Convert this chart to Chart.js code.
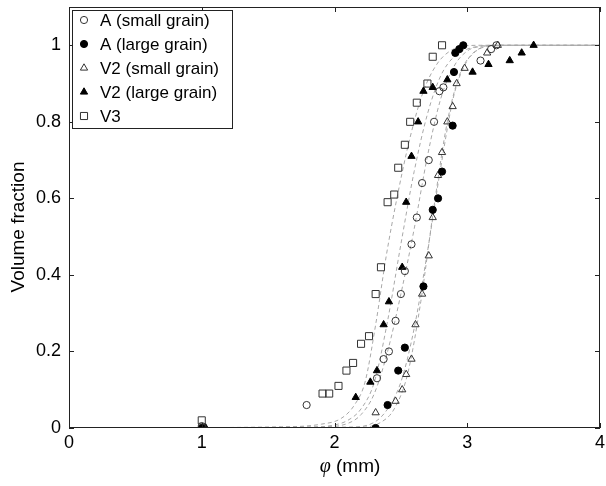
<!DOCTYPE html>
<html>
<head>
<meta charset="utf-8">
<script src="https://cdn.jsdelivr.net/npm/chart.js@4.4.0/dist/chart.umd.min.js"></script>
<style>
  html, body { margin: 0; padding: 0; background: #fff; }
</style>
</head>
<body>
<canvas id="chart" width="606" height="486"></canvas>
<script>
// measured points, [phi (mm), volume fraction]
const aSmall = [[1.00,0.005],[1.79,0.06],[2.32,0.13],[2.37,0.18],[2.41,0.20],[2.46,0.28],[2.50,0.35],[2.53,0.41],[2.58,0.48],[2.62,0.55],[2.66,0.64],[2.71,0.70],[2.75,0.80],[2.79,0.88],[2.82,0.89],[3.10,0.96],[3.18,0.99],[3.22,1.00]];
const aLarge = [[1.00,0],[2.31,0],[2.40,0.06],[2.48,0.15],[2.53,0.21],[2.67,0.37],[2.74,0.57],[2.78,0.60],[2.81,0.67],[2.89,0.79],[2.90,0.93],[2.91,0.98],[2.94,0.99],[2.97,1.00]];
const v2Small = [[1.02,0],[2.31,0.04],[2.46,0.07],[2.51,0.10],[2.54,0.14],[2.58,0.18],[2.61,0.27],[2.66,0.35],[2.71,0.45],[2.74,0.55],[2.78,0.66],[2.81,0.72],[2.85,0.80],[2.89,0.84],[2.92,0.90],[2.98,0.94],[3.15,0.98],[3.23,1.00]];
const v2Large = [[1.03,0],[2.16,0.08],[2.27,0.12],[2.32,0.15],[2.37,0.27],[2.41,0.33],[2.51,0.42],[2.54,0.59],[2.58,0.71],[2.63,0.80],[2.67,0.88],[2.74,0.89],[2.85,0.91],[3.04,0.93],[3.16,0.95],[3.32,0.96],[3.41,0.98],[3.50,1.00]];
const v3 = [[1.00,0.02],[1.91,0.09],[1.96,0.09],[2.03,0.11],[2.09,0.15],[2.14,0.17],[2.20,0.22],[2.26,0.24],[2.31,0.35],[2.35,0.42],[2.40,0.59],[2.45,0.61],[2.48,0.68],[2.53,0.74],[2.57,0.80],[2.62,0.85],[2.70,0.90],[2.74,0.97],[2.81,1.00]];

// fitted curves
const aSmallFit = [[0,0],[1.9,0.003],[2.1,0.012],[2.2,0.035],[2.3,0.09],[2.4,0.20],[2.5,0.35],[2.6,0.52],[2.7,0.71],[2.8,0.86],[2.9,0.945],[3.0,0.985],[3.1,0.997],[3.25,1],[4,1]];
const aLargeFit = [[0,0],[2.1,0.002],[2.3,0.015],[2.4,0.05],[2.5,0.12],[2.6,0.26],[2.7,0.46],[2.8,0.68],[2.9,0.87],[3.0,0.96],[3.1,0.993],[3.2,1],[4,1]];
const v2SmallFit = [[0,0],[2.2,0.002],[2.35,0.015],[2.45,0.05],[2.55,0.14],[2.65,0.33],[2.75,0.58],[2.85,0.80],[2.95,0.93],[3.05,0.98],[3.15,0.997],[3.3,1],[4,1]];
const v2LargeFit = [[0,0],[1.8,0.002],[2.0,0.008],[2.1,0.02],[2.2,0.05],[2.3,0.12],[2.4,0.28],[2.5,0.48],[2.6,0.67],[2.7,0.82],[2.8,0.92],[2.9,0.97],[3.0,0.99],[3.2,1],[4,1]];
const v3Fit = [[0,0],[1.6,0.003],[1.9,0.01],[2.05,0.025],[2.15,0.06],[2.23,0.12],[2.31,0.27],[2.39,0.45],[2.47,0.60],[2.57,0.76],[2.67,0.88],[2.77,0.95],[2.87,0.985],[2.97,0.997],[3.1,1],[4,1]];

const seriesNames = ['A (small grain)', 'A (large grain)', 'V2 (small grain)', 'V2 (large grain)', 'V3'];
const xTicks = [0, 1, 2, 3, 4];
const yTicks = [0, 0.2, 0.4, 0.6, 0.8, 1];

const FONT = '"Liberation Sans", Arial, Helvetica, sans-serif';
const toPts = arr => arr.map(([x, y]) => ({ x, y }));

const markers = [
  { data: aSmall, style: 'circle', filled: false, r: 3.6 },
  { data: aLarge, style: 'circle', filled: true, r: 3.6 },
  { data: v2Small, style: 'triangle', filled: false, r: 4.2 },
  { data: v2Large, style: 'triangle', filled: true, r: 4.2 },
  { data: v3, style: 'rect', filled: false, r: 5 },
];
const fits = [aSmallFit, aLargeFit, v2SmallFit, v2LargeFit, v3Fit];

const datasets = markers.map((m, i) => ({
  label: seriesNames[i],
  data: toPts(m.data),
  pointStyle: m.style,
  pointRadius: m.r,
  pointHoverRadius: m.r,
  pointBorderWidth: 1,
  pointBorderColor: m.filled ? '#000' : '#333',
  pointBackgroundColor: m.filled ? '#000' : 'rgba(0,0,0,0)',
  showLine: false,
}));
fits.forEach(f => datasets.push({
  label: 'fit',
  data: toPts(f),
  showLine: true,
  pointRadius: 0,
  borderColor: '#a8a8a8',
  borderWidth: 1,
  borderDash: [4, 3],
  cubicInterpolationMode: 'monotone',
  fill: false,
}));

// box, inward ticks, axis titles and the legend
const framePlugin = {
  id: 'frame',
  afterDraw(chart) {
    const { ctx, chartArea: a, scales } = chart;
    ctx.save();
    ctx.strokeStyle = '#222';
    ctx.lineWidth = 1;
    ctx.strokeRect(a.left + 0.5, a.top + 0.5, a.right - a.left - 1, a.bottom - a.top - 1);
    ctx.beginPath();
    xTicks.forEach(v => {
      const px = Math.round(scales.x.getPixelForValue(v)) + 0.5;
      ctx.moveTo(px, a.bottom); ctx.lineTo(px, a.bottom - 5);
      ctx.moveTo(px, a.top); ctx.lineTo(px, a.top + 5);
    });
    yTicks.forEach(v => {
      const py = Math.round(scales.y.getPixelForValue(v)) + 0.5;
      ctx.moveTo(a.left, py); ctx.lineTo(a.left + 5, py);
      ctx.moveTo(a.right, py); ctx.lineTo(a.right - 5, py);
    });
    ctx.stroke();

    // x axis title, phi in italic
    ctx.fillStyle = '#000';
    ctx.textBaseline = 'middle';
    ctx.textAlign = 'left';
    const phiFont = 'italic 20px "Liberation Serif", "Times New Roman", serif';
    const restFont = '19px ' + FONT;
    ctx.font = phiFont;
    const wPhi = ctx.measureText('φ').width;
    ctx.font = restFont;
    const wRest = ctx.measureText(' (mm)').width;
    const x0 = 350 - (wPhi + wRest) / 2;
    ctx.font = phiFont;
    ctx.fillText('φ', x0, 467);
    ctx.font = restFont;
    ctx.fillText(' (mm)', x0 + wPhi, 467);

    // y axis title
    ctx.save();
    ctx.translate(19, 227);
    ctx.rotate(-Math.PI / 2);
    ctx.textAlign = 'center';
    ctx.font = '19px ' + FONT;
    ctx.fillText('Volume fraction', 0, 0);
    ctx.restore();

    // legend
    const box = { left: 72, top: 10, right: 232, bottom: 128 };
    ctx.fillStyle = '#fff';
    ctx.fillRect(box.left, box.top, box.right - box.left, box.bottom - box.top);
    ctx.strokeStyle = '#222';
    ctx.strokeRect(box.left + 0.5, box.top + 0.5, box.right - box.left, box.bottom - box.top);
    ctx.font = '17px ' + FONT;
    markers.forEach((m, i) => {
      const y = box.top + 10 + i * 24;
      ctx.fillStyle = m.filled ? '#000' : 'rgba(0,0,0,0)';
      ctx.strokeStyle = m.filled ? '#000' : '#333';
      ctx.lineWidth = 1;
      Chart.helpers.drawPoint(ctx, { pointStyle: m.style, radius: m.r, rotation: 0, borderWidth: 1 }, 84, y);
      ctx.fillStyle = '#000';
      ctx.fillText(seriesNames[i], 100, y + 1);
    });
    ctx.restore();
  }
};

new Chart(document.getElementById('chart'), {
  type: 'scatter',
  data: { datasets },
  plugins: [framePlugin],
  options: {
    responsive: false,
    animation: false,
    layout: { padding: { top: 7, right: 2, left: 0, bottom: 0 } },
    plugins: { legend: { display: false }, tooltip: { enabled: false } },
    scales: {
      x: {
        type: 'linear', min: 0, max: 4,
        afterBuildTicks: s => { s.ticks = xTicks.map(v => ({ value: v })); },
        afterFit: s => { s.height = 58; s.paddingLeft = 0; s.paddingRight = 0; },
        grid: { display: false, drawTicks: false },
        border: { display: false },
        ticks: { color: '#000', padding: 4, font: { family: FONT, size: 18 }, callback: v => String(v) },
      },
      y: {
        type: 'linear', min: 0, max: 1.1,
        afterBuildTicks: s => { s.ticks = yTicks.map(v => ({ value: v })); },
        afterFit: s => { s.width = 69; s.paddingTop = 0; s.paddingBottom = 0; },
        grid: { display: false, drawTicks: false },
        border: { display: false },
        ticks: { color: '#000', padding: 8, font: { family: FONT, size: 18 }, callback: v => String(v) },
      }
    }
  }
});
</script>
</body>
</html>
